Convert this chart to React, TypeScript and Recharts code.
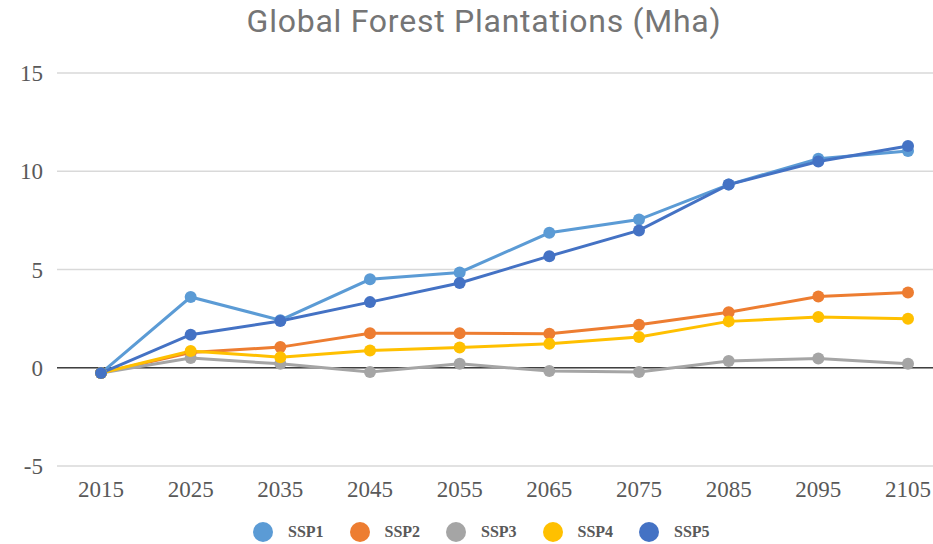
import { CartesianGrid, Line, LineChart, ReferenceLine, XAxis, YAxis } from "recharts";

const years = ["2015", "2025", "2035", "2045", "2055", "2065", "2075", "2085", "2095", "2105"];
const ssp1 = [-0.27, 3.6, 2.42, 4.5, 4.85, 6.87, 7.54, 9.32, 10.64, 11.03];
const ssp2 = [-0.27, 0.78, 1.05, 1.76, 1.76, 1.73, 2.19, 2.82, 3.63, 3.83];
const ssp3 = [-0.27, 0.49, 0.2, -0.22, 0.2, -0.17, -0.22, 0.34, 0.47, 0.2];
const ssp4 = [-0.27, 0.85, 0.54, 0.88, 1.03, 1.22, 1.56, 2.36, 2.58, 2.49];
const ssp5 = [-0.27, 1.68, 2.38, 3.34, 4.31, 5.68, 6.99, 9.32, 10.5, 11.28];
const yTicks = [-5, 0, 5, 10, 15];

const series = [
  { key: "SSP1", values: ssp1, color: "#5B9BD5" },
  { key: "SSP2", values: ssp2, color: "#ED7D31" },
  { key: "SSP3", values: ssp3, color: "#A5A5A5" },
  { key: "SSP4", values: ssp4, color: "#FFC000" },
  { key: "SSP5", values: ssp5, color: "#4472C4" },
];

const data = years.map((year, i) => {
  const row: Record<string, string | number> = { year };
  for (const s of series) row[s.key] = s.values[i];
  return row;
});

const serif = '"Liberation Serif", "Times New Roman", serif';
const tickStyle = { fill: "#595959", fontSize: 23, fontFamily: serif };

export default function App() {
  return (
    <div
      style={{
        position: "absolute",
        left: 0,
        top: 0,
        width: 933,
        height: 544,
        background: "#fff",
        overflow: "hidden",
      }}
    >
      <div
        style={{
          position: "absolute",
          top: 5,
          left: 0,
          width: 968,
          textAlign: "center",
          fontFamily: "Roboto, sans-serif",
          fontSize: 32,
          lineHeight: "32px",
          letterSpacing: 0.75,
          color: "#757575",
        }}
      >
        Global Forest Plantations (Mha)
      </div>
      <LineChart
        width={933}
        height={544}
        data={data}
        margin={{ top: 73, right: 0, bottom: 48, left: 0 }}
      >
        <CartesianGrid vertical={false} stroke="#d9d9d9" strokeWidth={1.5} />
        <XAxis
          dataKey="year"
          height={30}
          padding={{ left: 44, right: 25 }}
          axisLine={false}
          tickLine={false}
          tickSize={0}
          tickMargin={15}
          tick={tickStyle}
        />
        <YAxis
          width={57}
          domain={[-5, 15]}
          ticks={yTicks}
          axisLine={false}
          tickLine={false}
          tickSize={0}
          tickMargin={14}
          tick={tickStyle}
        />
        <ReferenceLine y={0} stroke="#404040" strokeWidth={1.5} />
        {series.map((s) => (
          <Line
            key={s.key}
            dataKey={s.key}
            stroke={s.color}
            strokeWidth={3}
            dot={{ r: 6, fill: s.color, stroke: s.color, strokeWidth: 0 }}
            activeDot={false}
            isAnimationActive={false}
          />
        ))}
      </LineChart>
      <div
        style={{
          position: "absolute",
          top: 522,
          left: 253,
          display: "flex",
          height: 20,
        }}
      >
        {series.map((s) => (
          <div
            key={s.key}
            style={{ width: 96.5, display: "flex", alignItems: "center" }}
          >
            <span
              style={{
                width: 20,
                height: 20,
                borderRadius: "50%",
                background: s.color,
                marginRight: 15,
                flex: "none",
              }}
            />
            <span
              style={{
                fontFamily: serif,
                fontWeight: "bold",
                fontSize: 16,
                color: "#595959",
              }}
            >
              {s.key}
            </span>
          </div>
        ))}
      </div>
    </div>
  );
}
